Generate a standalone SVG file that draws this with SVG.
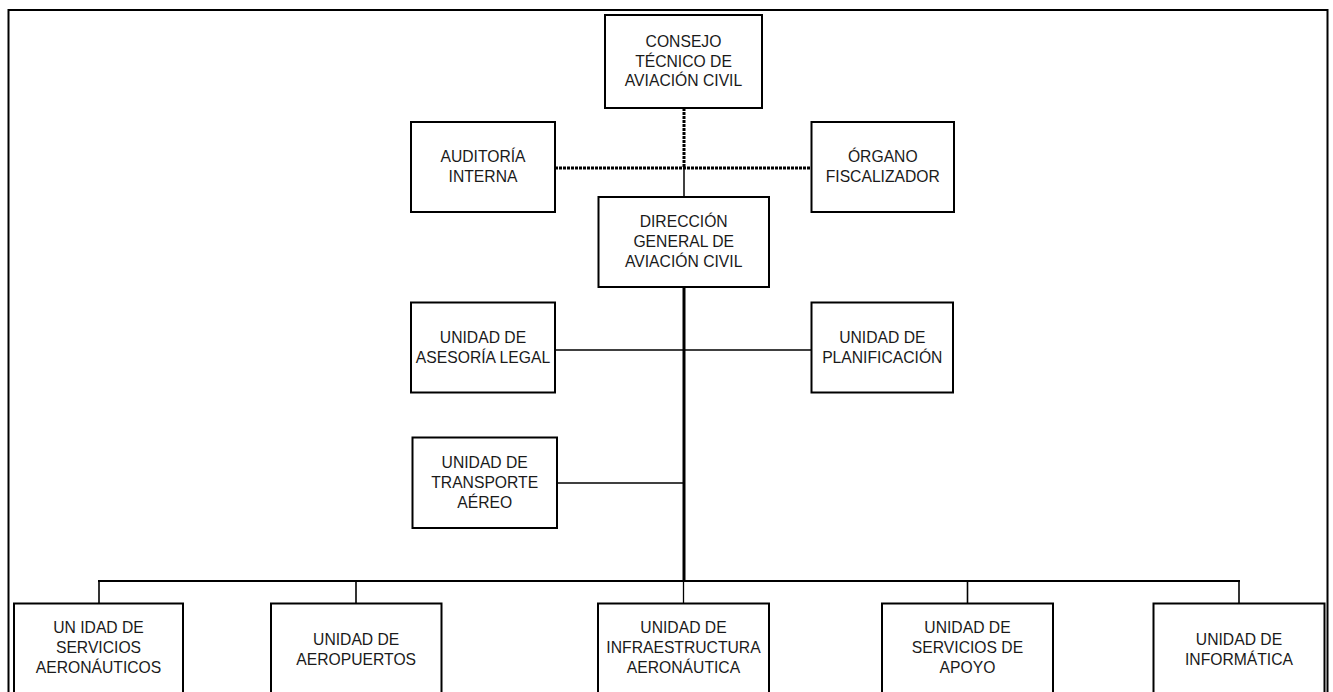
<svg xmlns="http://www.w3.org/2000/svg" width="1333" height="692" viewBox="0 0 1333 692">
<style>
.box{fill:#fff;stroke:#000;stroke-width:2}
.t{font-family:"Liberation Sans",Arial,sans-serif;font-size:15.7px;fill:#1a1a1a;text-anchor:middle}
.ln{stroke:#000;fill:none}
.dot{stroke:#000;stroke-width:3;stroke-dasharray:3 1;fill:none}
</style>
<rect x="0" y="0" width="1333" height="692" fill="#fff"/>
<rect x="8.5" y="10" width="1319" height="700" fill="none" stroke="#000" stroke-width="2"/>
<g id="connectors">
<line class="dot" x1="684" y1="108" x2="684" y2="168"/>
<line class="dot" x1="555" y1="168" x2="811" y2="168"/>
<line class="ln" stroke-width="1.5" x1="684" y1="168" x2="684" y2="197"/>
<line class="ln" stroke-width="3" x1="684" y1="287" x2="684" y2="582"/>
<line class="ln" stroke-width="1.6" x1="555" y1="350" x2="811" y2="350"/>
<line class="ln" stroke-width="1.6" x1="557" y1="483" x2="684" y2="483"/>
<line class="ln" stroke-width="2" x1="98" y1="581" x2="1240" y2="581"/>
<line class="ln" stroke-width="1.6" x1="99" y1="581" x2="99" y2="603"/>
<line class="ln" stroke-width="1.6" x1="356" y1="581" x2="356" y2="603"/>
<line class="ln" stroke-width="1.3" x1="683.5" y1="581" x2="683.5" y2="603"/>
<line class="ln" stroke-width="1.6" x1="967.5" y1="581" x2="967.5" y2="603"/>
<line class="ln" stroke-width="1.6" x1="1239" y1="581" x2="1239" y2="603"/>
</g>
<g id="consejo">
<rect class="box" x="605" y="15" width="157" height="93"/>
<text class="t" x="683.5" y="47">CONSEJO</text>
<text class="t" x="683.5" y="66.5">TÉCNICO DE</text>
<text class="t" x="683.5" y="86">AVIACIÓN CIVIL</text>
</g>
<g id="auditoria">
<rect class="box" x="411" y="122" width="144" height="90"/>
<text class="t" x="483" y="162.3">AUDITORÍA</text>
<text class="t" x="483" y="182.3">INTERNA</text>
</g>
<g id="organo">
<rect class="box" x="811.5" y="122" width="142.5" height="90"/>
<text class="t" x="882.8" y="162.3">ÓRGANO</text>
<text class="t" x="882.8" y="182.3">FISCALIZADOR</text>
</g>
<g id="direccion">
<rect class="box" x="598.5" y="197" width="170.5" height="90"/>
<text class="t" x="683.7" y="227.3">DIRECCIÓN</text>
<text class="t" x="683.7" y="247">GENERAL DE</text>
<text class="t" x="683.7" y="266.7">AVIACIÓN CIVIL</text>
</g>
<g id="asesoria">
<rect class="box" x="411" y="302.5" width="144" height="90"/>
<text class="t" x="483" y="343">UNIDAD DE</text>
<text class="t" x="483" y="363">ASESORÍA LEGAL</text>
</g>
<g id="planificacion">
<rect class="box" x="811.5" y="302.5" width="141.5" height="90"/>
<text class="t" x="882.3" y="343">UNIDAD DE</text>
<text class="t" x="882.3" y="363">PLANIFICACIÓN</text>
</g>
<g id="transporte">
<rect class="box" x="412.5" y="437.5" width="144.5" height="90.5"/>
<text class="t" x="484.7" y="467.7">UNIDAD DE</text>
<text class="t" x="484.7" y="487.7">TRANSPORTE</text>
<text class="t" x="484.7" y="507.7">AÉREO</text>
</g>
<g id="servicios-aeronauticos">
<rect class="box" x="14" y="603.5" width="169" height="91"/>
<text class="t" x="98.5" y="633.3">UN IDAD DE</text>
<text class="t" x="98.5" y="653.3">SERVICIOS</text>
<text class="t" x="98.5" y="673.3">AERONÁUTICOS</text>
</g>
<g id="aeropuertos">
<rect class="box" x="271" y="603.5" width="170.5" height="91"/>
<text class="t" x="356.2" y="645">UNIDAD DE</text>
<text class="t" x="356.2" y="664.5">AEROPUERTOS</text>
</g>
<g id="infraestructura">
<rect class="box" x="598" y="603.5" width="171" height="91"/>
<text class="t" x="683.5" y="633.3">UNIDAD DE</text>
<text class="t" x="683.5" y="653.3">INFRAESTRUCTURA</text>
<text class="t" x="683.5" y="673.3">AERONÁUTICA</text>
</g>
<g id="servicios-apoyo">
<rect class="box" x="882" y="603.5" width="171" height="91"/>
<text class="t" x="967.5" y="633.3">UNIDAD DE</text>
<text class="t" x="967.5" y="653.3">SERVICIOS DE</text>
<text class="t" x="967.5" y="673.3">APOYO</text>
</g>
<g id="informatica">
<rect class="box" x="1153.5" y="603.5" width="171" height="91"/>
<text class="t" x="1239" y="645">UNIDAD DE</text>
<text class="t" x="1239" y="664.5">INFORMÁTICA</text>
</g>
</svg>
